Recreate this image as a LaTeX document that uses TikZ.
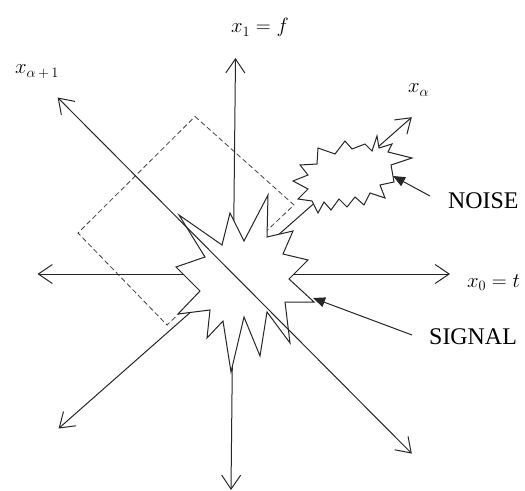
\documentclass[tikz,border=0pt]{standalone}
\usepackage{fontspec}
\setmainfont{Liberation Serif}
\usetikzlibrary{arrows.meta}
\begin{document}
\begin{tikzpicture}[x=1bp,y=-1bp,
  >={Straight Barb[length=14bp,width=19bp]},
  axis/.style={line width=1bp,draw=black!85,<->},
  guide/.style={line width=0.8bp,draw=black!75,dash pattern=on 5bp off 3bp},
  burst/.style={line width=1bp,draw=black!85,fill=white,line join=miter},
  pointer/.style={line width=1bp,draw=black!85,-{Triangle[length=12bp,width=10bp]}},
  lab/.style={inner sep=0pt,font=\fontsize{21}{25}\selectfont},
  txt/.style={inner sep=0pt,font=\fontsize{24}{28}\selectfont}]
\useasboundingbox (0,0) rectangle (525,491);
% axis end points
\coordinate (vT) at (235.5,58);
\coordinate (vB) at (231,490);
\coordinate (hL) at (37.5,274);
\coordinate (hR) at (450,274);
\coordinate (dA) at (57.6,97.5);
\coordinate (dB) at (411.8,453.6);
\coordinate (aT) at (411.8,117.2);
\coordinate (aB) at (58.6,428.5);
% dashed window
\draw[guide] (195,116.5) -- (294,205) -- (167,325) -- (78,233) -- cycle;
% axes under the bursts
\draw[axis] (vB) -- (vT);
\draw[axis] (hL) -- (hR);
\draw[axis] (aB) -- (aT);
% signal burst
\draw[burst] (179,215) -- (222,245) -- (230,213) -- (244,241) -- (268,195)
  -- (267,237) -- (293,231) -- (283,254) -- (308,260) -- (289,279)
  -- (314,302) -- (285,302) -- (290,343) -- (267,312) -- (260,356)
  -- (244,317) -- (231,372) -- (223,321) -- (207,338) -- (210,310)
  -- (178,314) -- (200,291) -- (176,267) -- (205,257) -- cycle;
% noise burst
\draw[burst] (300,165) -- (317,164) -- (318,148) -- (335,154) -- (345,141)
  -- (352,149) -- (365,144) -- (372,151) -- (377,136) -- (379,148)
  -- (392,144) -- (388,152) -- (412,158) -- (391,165) -- (394,182)
  -- (380,185) -- (385,198) -- (370,193) -- (364,205) -- (355,197)
  -- (347,207) -- (339,199) -- (331,210) -- (324,202) -- (318,213)
  -- (312,201) -- (298,199) -- (308,189) -- (293,181) -- (308,175) -- cycle;
% diagonal axis on top
\draw[axis] (dB) -- (dA);
% pointers
\coordinate (nTail) at (430,196);
\coordinate (nTip) at (393,176);
\coordinate (sTail) at (412,335);
\coordinate (sTip) at (313,298);
\draw[pointer] (nTail) -- (nTip);
\draw[pointer] (sTail) -- (sTip);
% labels
\node[lab,anchor=base west] (l1) at (231,33) {$x_1 = f$};
\node[lab,anchor=base west] (l0) at (467,287) {$x_0 = t$};
\node[lab,anchor=base west] (la1) at (15,74) {$x_{\alpha\,+\,1}$};
\node[lab,anchor=base west] (la) at (408,93) {$x_\alpha$};
\node[txt,anchor=base west] (noise) at (448,209) {NOISE};
\node[txt,anchor=base west] (signal) at (429,344) {SIGNAL};
\end{tikzpicture}
\end{document}
